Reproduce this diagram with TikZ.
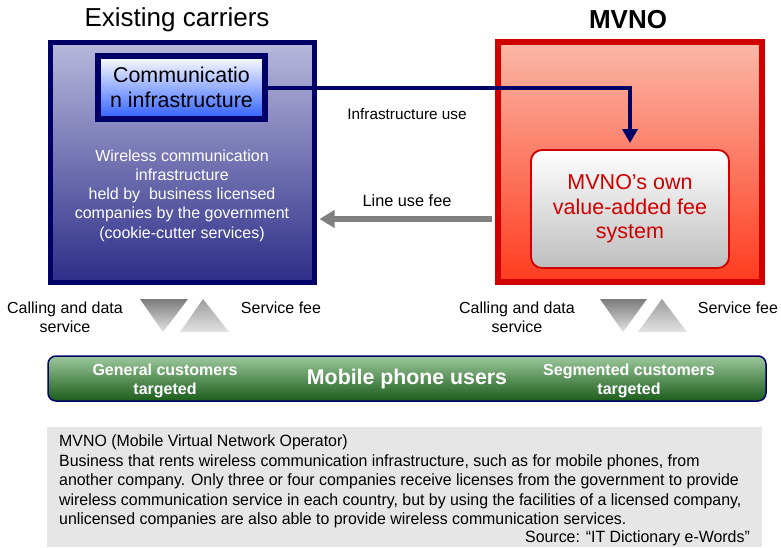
\documentclass[tikz,border=0pt]{standalone}
\usepackage{fontspec}
\setmainfont{Liberation Sans}
\newfontfamily\narrowfont[FakeStretch=0.975,Ligatures=TeX]{Liberation Sans}
\usetikzlibrary{arrows.meta}
\definecolor{navy}{HTML}{000066}
\definecolor{lavtop}{HTML}{B8B8DC}
\definecolor{lavbot}{HTML}{2D2D88}
\definecolor{commblue}{HTML}{2F5FFF}
\definecolor{mred}{HTML}{D00000}
\definecolor{saltop}{HTML}{FBB8A8}
\definecolor{salbot}{HTML}{FF3B1E}
\definecolor{owngray}{HTML}{BEBEBE}
\definecolor{feegray}{HTML}{808080}
\definecolor{tridark}{HTML}{7C7C7C}
\definecolor{trimid}{HTML}{9C9C9C}
\definecolor{trilight}{HTML}{E2E2E2}
\definecolor{gtop}{HTML}{9CC89C}
\definecolor{gbot}{HTML}{1A5C1A}
\definecolor{notegray}{HTML}{E6E6E6}
\tikzset{
  bigbox/.style={inner sep=0pt, minimum width=264pt, minimum height=240pt},
  lbl/.style={inner sep=0pt, align=center, font=\fontsize{16}{19}\selectfont},
  wlbl/.style={inner sep=0pt, align=center, text=white, font=\bfseries\fontsize{16}{19}\selectfont},
  tri/.style={top color=#1, bottom color=trilight}
}
\begin{document}
\begin{tikzpicture}[x=1pt,y=-1pt]
\useasboundingbox (0,0) rectangle (781,547);
% titles
\node[inner sep=0pt, font=\fontsize{26}{30}\selectfont] (t1) at (177,20) {Existing carriers};
\node[inner sep=0pt, font=\bfseries\fontsize{26}{30}\selectfont] (t2) at (628,20) {MVNO};
% left big box
\node[bigbox, draw=navy, line width=5pt, top color=lavtop, bottom color=lavbot] (carrier) at (182,162.5) {};
\node[inner sep=0pt, align=center, text=white, font=\fontsize{16}{19.3}\selectfont] (wtext) at (182,195.5)
  {Wireless communication\\infrastructure\\held by\ \ business licensed\\companies by the government\\(cookie-cutter services)};
\node[draw=navy, line width=6pt, top color=white, bottom color=commblue, inner sep=0pt,
  minimum width=167pt, minimum height=63pt, align=center, font=\fontsize{21.4}{25}\selectfont] (comm) at (181.5,87.5)
  {Communicatio\\n infrastructure};
% right big box
\node[bigbox, draw=mred, line width=6pt, top color=saltop, bottom color=salbot] (mvno) at (630,162) {};
\node[draw=mred, line width=1.8pt, rounded corners=11pt, top color=white, bottom color=owngray, inner sep=0pt,
  minimum width=198pt, minimum height=118pt, align=center, text=mred, font=\fontsize{21.5}{24.5}\selectfont] (own) at (630,209)
  {MVNO's own\\value-added fee\\system};
% arrows
\coordinate (tip) at (630,143);
\draw[navy, line width=4pt, -{Triangle[length=14pt,width=15pt]}] (comm.east) -| (tip);
\coordinate (feeY) at (0,219);
\draw[feegray, line width=6pt, -{Triangle[length=15pt,width=17pt]}] ([xshift=-3pt]mvno.west |- feeY) -- ([xshift=3pt]carrier.east |- feeY);
\node[lbl, font=\fontsize{15.3}{18}\selectfont] (infra) at (407,114) {Infrastructure use};
\node[lbl, font=\fontsize{16.3}{19}\selectfont] (linefee) at (407,201) {Line use fee};
% triangles
\shade[tri=tridark] (140,299) -- (188,299) -- (163,332) -- cycle;
\shade[tri=trimid] (203,299) -- (229,332) -- (180,332) -- cycle;
\shade[tri=tridark] (600,299) -- (647,299) -- (623,332) -- cycle;
\shade[tri=trimid] (662,299) -- (687,332) -- (638,332) -- cycle;
\node[lbl] (cds1) at (65,317.5) {Calling and data\\service};
\node[lbl] (sf1) at (281,308) {Service fee};
\node[lbl] (cds2) at (517,317.5) {Calling and data\\service};
\node[lbl] (sf2) at (738,308) {Service fee};
% users bar
\node[draw=navy, line width=1.5pt, rounded corners=8pt, top color=gtop, bottom color=gbot, inner sep=0pt,
  minimum width=718pt, minimum height=45pt, text=white, font=\bfseries\fontsize{21.3}{24}\selectfont] (users) at (407,378.5)
  {Mobile phone users};
\node[wlbl] (gen) at (165,381) {General customers\\targeted};
\node[wlbl] (seg) at (629,381) {Segmented customers\\targeted};
% note box
\node[fill=notegray, inner sep=0pt, minimum width=715pt, minimum height=120pt] (note) at (404.5,487) {};
\node[inner sep=0pt, anchor=west, align=left, font=\narrowfont\fontsize{16.3}{19.5}\selectfont] (defn) at (59,481.5)
  {MVNO (Mobile Virtual Network Operator)\\
   Business that rents wireless communication infrastructure, such as for mobile phones, from\\
   another company. Only three or four companies receive licenses from the government to provide\\
   wireless communication service in each country, but by using the facilities of a licensed company,\\
   unlicensed companies are also able to provide wireless communication services.};
\node[inner sep=0pt, anchor=east, font=\narrowfont\fontsize{16.3}{19}\selectfont] (src) at (750,538) {Source: “IT Dictionary e-Words”};
\end{tikzpicture}
\end{document}
